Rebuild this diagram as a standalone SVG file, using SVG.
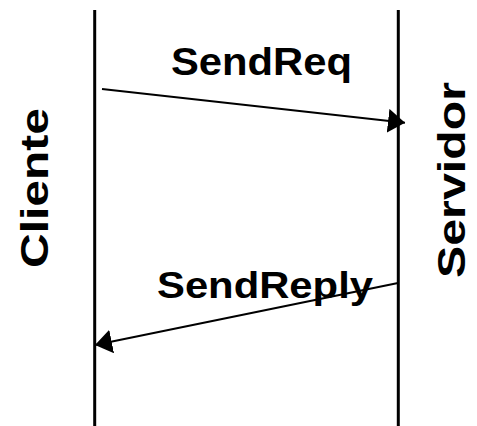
<svg xmlns="http://www.w3.org/2000/svg" width="477" height="426" viewBox="0 0 477 426">
  <style>
    .life { stroke: #000; stroke-width: 3; fill: none; }
    .msg { stroke: #000; stroke-width: 2; fill: none; marker-end: url(#head); }
    .lbl { font-family: "Liberation Sans", Arial, sans-serif; font-weight: bold; fill: #000; }
  </style>
  <defs>
    <marker id="head" viewBox="0 0 17 24" refX="17" refY="12" markerWidth="17" markerHeight="24" markerUnits="userSpaceOnUse" orient="auto">
      <path d="M0,0 L17,12 L0,24 Z" fill="#000"/>
    </marker>
  </defs>
  <rect width="477" height="426" fill="#fff"/>

  <g id="cliente">
    <line class="life" x1="94.7" y1="10" x2="94.7" y2="426"/>
    <text class="lbl" font-size="39" transform="translate(48,268) rotate(-90)" textLength="160" lengthAdjust="spacingAndGlyphs">Cliente</text>
  </g>

  <g id="servidor">
    <line class="life" x1="398.3" y1="10" x2="398.3" y2="426"/>
    <text class="lbl" font-size="39" transform="translate(465,278) rotate(-90)" textLength="196" lengthAdjust="spacingAndGlyphs">Servidor</text>
  </g>

  <g id="connectors">
    <g id="sendreq">
      <line class="msg" x1="102" y1="89" x2="405" y2="122.7"/>
      <text class="lbl" font-size="39" x="171" y="75" textLength="181" lengthAdjust="spacingAndGlyphs">SendReq</text>
    </g>
    <g id="sendreply">
      <line class="msg" x1="398" y1="283" x2="95" y2="345"/>
      <text class="lbl" font-size="37" x="157" y="298" textLength="216" lengthAdjust="spacingAndGlyphs">SendReply</text>
    </g>
  </g>
</svg>
